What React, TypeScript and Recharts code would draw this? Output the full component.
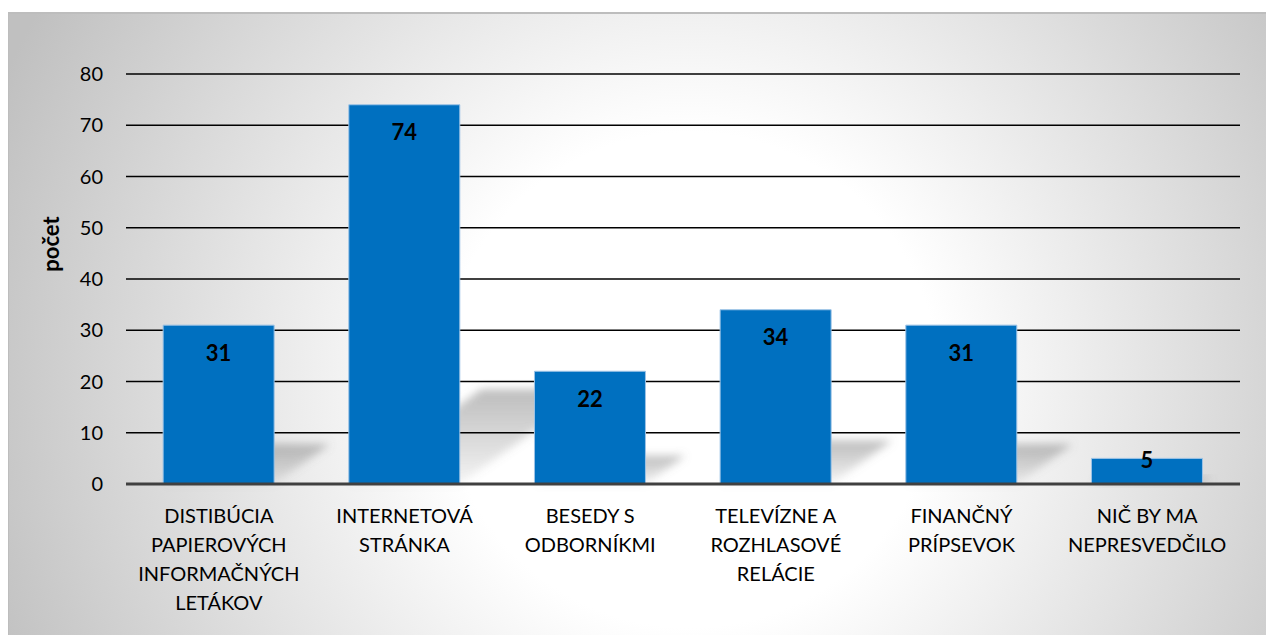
import { BarChart, Bar, XAxis, YAxis, CartesianGrid, LabelList } from "recharts";

const categories = [
  "DISTIBÚCIA\nPAPIEROVÝCH\nINFORMAČNÝCH\nLETÁKOV",
  "INTERNETOVÁ\nSTRÁNKA",
  "BESEDY S\nODBORNÍKMI",
  "TELEVÍZNE A\nROZHLASOVÉ\nRELÁCIE",
  "FINANČNÝ\nPRÍPSEVOK",
  "NIČ BY MA\nNEPRESVEDČILO",
];
const counts = [31, 74, 22, 34, 31, 5];
const yTicks = [0, 10, 20, 30, 40, 50, 60, 70, 80];

const data = categories.map((name, i) => ({ name, value: counts[i] }));

const W = 1258;
const H = 623;
const FONT = "Lato, 'Noto Sans', sans-serif";
const margin = { top: 62, right: 26, left: 0, bottom: 0 };

const CategoryTick = ({ x, y, payload }: any) => {
  const lines = String(payload.value).split("\n");
  return (
    <text x={x} y={y} textAnchor="middle" fontSize={20} fontFamily={FONT} fill="#000">
      {lines.map((l, i) => (
        <tspan key={i} x={x} dy={i === 0 ? 37 : 29}>
          {l}
        </tspan>
      ))}
    </text>
  );
};

// perspective shadow cast to the right of each bar
const ShadowShape = (props: any) => {
  const { x, y, width, height } = props;
  const base = y + height;
  const dx = height * 0.35;
  const dy = height * 0.25;
  const pts = [
    [x, base],
    [x + width, base],
    [x + width + dx, base - dy],
    [x + dx, base - dy],
  ]
    .map((p) => p.join(","))
    .join(" ");
  return <polygon points={pts} fill="url(#shadowFill)" filter="url(#shadowBlur)" />;
};

const ValueLabel = (props: any) => {
  const { x, y, width, height, value } = props;
  const cy = height >= 40 ? y + 27 : y + 1;
  return (
    <text
      x={x + width / 2}
      y={cy}
      textAnchor="middle"
      dominantBaseline="central"
      fontSize={22}
      fontWeight="bold"
      fontFamily={FONT}
      fill="#000"
    >
      {value}
    </text>
  );
};

const AxisTitle = ({ viewBox }: any) => {
  const cx = viewBox.x + 42;
  const cy = viewBox.y + viewBox.height / 2 - 35;
  return (
    <text
      x={cx}
      y={cy}
      transform={`rotate(-90 ${cx} ${cy})`}
      textAnchor="middle"
      dominantBaseline="central"
      fontSize={22}
      fontWeight="bold"
      fontFamily={FONT}
      fill="#000"
    >
      počet
    </text>
  );
};

export default function App() {
  return (
    <div style={{ padding: "12px 0 0 8px" }}>
      <style>{"html,body{margin:0;overflow:hidden}"}</style>
      <div style={{ position: "relative", width: W, height: H }}>
        <svg width={W} height={H} style={{ position: "absolute", left: 0, top: 0 }}>
          <defs>
            <radialGradient id="bgGrad" gradientUnits="userSpaceOnUse" cx={682} cy={368} r={750}>
              <stop offset="0" stopColor="#ffffff" />
              <stop offset="0.33" stopColor="#ffffff" />
              <stop offset="1" stopColor="#c0c0c0" />
            </radialGradient>
          </defs>
          <rect x={0} y={0} width={W} height={H} fill="url(#bgGrad)" />
          <line x1={0} y1={1} x2={W} y2={1} stroke="#bdbdbd" strokeWidth={2} />
          <line x1={0.5} y1={0} x2={0.5} y2={H} stroke="#bdbdbd" strokeWidth={1} />
        </svg>

        {/* shadows layer, under the grid */}
        <div style={{ position: "absolute", left: 0, top: 0 }}>
          <BarChart width={W} height={H} data={data} margin={margin} barCategoryGap="20%">
            <defs>
              <linearGradient id="shadowFill" x1="0" y1="1" x2="0" y2="0">
                <stop offset="0" stopColor="#7a7a7a" stopOpacity={0.08} />
                <stop offset="1" stopColor="#7a7a7a" stopOpacity={0.5} />
              </linearGradient>
              <filter id="shadowBlur" x="-50%" y="-50%" width="200%" height="200%">
                <feGaussianBlur stdDeviation="4" />
              </filter>
            </defs>
            <XAxis dataKey="name" height={151} tick={false} axisLine={false} tickLine={false} />
            <YAxis width={118} domain={[0, 80]} ticks={yTicks} tick={false} axisLine={false} tickLine={false} />
            <Bar dataKey="value" shape={ShadowShape} isAnimationActive={false} />
          </BarChart>
        </div>

        <div style={{ position: "absolute", left: 0, top: 0 }}>
          <BarChart width={W} height={H} data={data} margin={margin} barCategoryGap="20%">
            <CartesianGrid vertical={false} stroke="#000" strokeWidth={1.5} />
            <XAxis
              dataKey="name"
              height={151}
              interval={0}
              tick={<CategoryTick />}
              tickLine={false}
              tickSize={0}
              axisLine={{ stroke: "#404040", strokeWidth: 3 }}
            />
            <YAxis
              width={118}
              domain={[0, 80]}
              ticks={yTicks}
              interval={0}
              axisLine={false}
              tickLine={false}
              tickSize={0}
              tickMargin={23}
              tick={{ fontSize: 20, fontFamily: FONT, fill: "#000" }}
              label={{ content: <AxisTitle /> }}
            />
            <Bar dataKey="value" fill="#0070C0" stroke="#9dc3e6" strokeWidth={1} isAnimationActive={false}>
              <LabelList dataKey="value" content={<ValueLabel />} />
            </Bar>
          </BarChart>
        </div>
      </div>
    </div>
  );
}
